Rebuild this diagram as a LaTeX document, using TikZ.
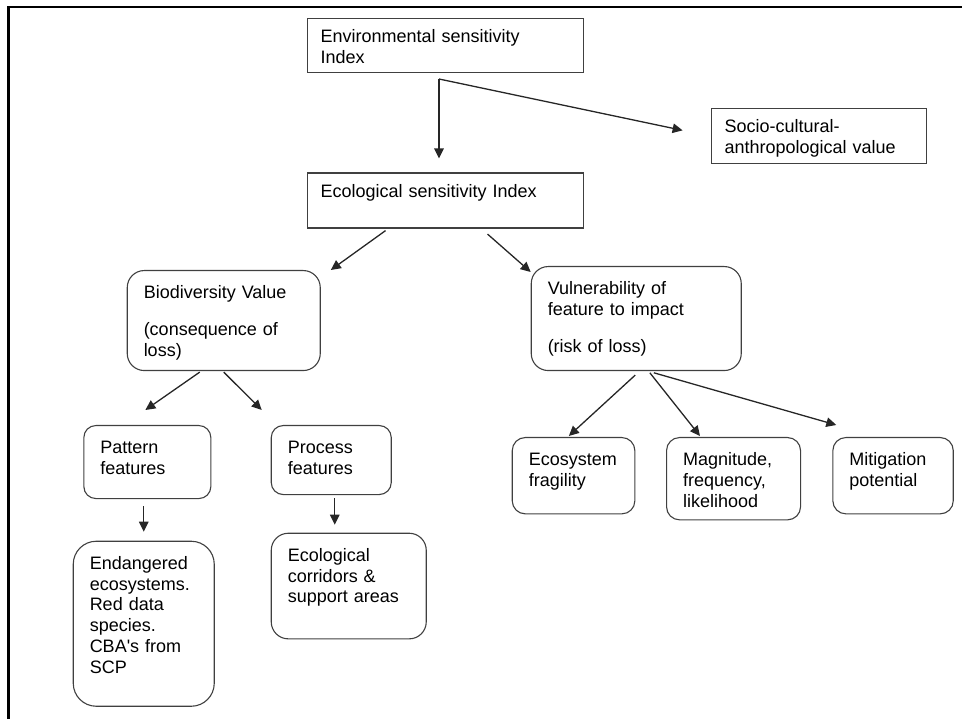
\documentclass[tikz,border=0pt]{standalone}
\usepackage{fontspec}
\setmainfont{Liberation Sans}
\usetikzlibrary{arrows.meta,calc}
\newcommand{\boxfont}{\fontsize{18}{20.8}\selectfont}

\begin{document}
\begin{tikzpicture}[x=1pt,y=-1pt,
    >={Triangle[length=10pt,width=9.5pt]},
    sq/.style={draw=black!75,line width=1.1pt,anchor=north west,align=left,
        inner xsep=13pt,inner ysep=0pt,text height=24pt,font=\boxfont},
    rnd/.style={sq,inner xsep=16.5pt,text height=28pt,rounded corners=#1},
    arr/.style={->,line width=1.3pt,black!85}]
        \useasboundingbox (0,0) rectangle (962,719);
        % frame
        \draw[line width=2.3pt] (8.5,719) -- (8.5,7) -- (962,7);
        % index boxes
        \node[sq,text width=250pt,text depth=30pt] (env) at (307,18) {Environmental sensitivity\\Index};
        \node[sq,text width=250pt,text depth=31pt] (eco) at (307,172.5) {Ecological sensitivity Index};
        \node[sq,text width=189pt,text depth=31pt] (socio) at (711,108.3) {Socio-cultural-\\anthropological value};
        % value and vulnerability
        \node[rnd=17pt,text width=160pt,text depth=72pt] (bio) at (126.7,270) {Biodiversity Value\\[16pt](consequence of\\loss)};
        \node[rnd=17pt,text width=177pt,text depth=76pt] (vuln) at (530.7,266) {Vulnerability of\\feature to impact\\[16pt](risk of loss)};
        % features
        \node[rnd=12pt,text width=94pt,text depth=45pt] (pat) at (83.3,425) {Pattern\\features};
        \node[rnd=12pt,text width=87pt,text depth=41pt] (proc) at (270.7,425) {Process\\features};
        \node[rnd=23pt,text width=108pt,text depth=137pt] (endg) at (72.7,540.7) {Endangered\\ecosystems.\\Red data\\species.\\CBA\textquotesingle s from\\SCP};
        \node[rnd=17pt,text width=122pt,text depth=77.6pt] (corr) at (270.7,532.7) {Ecological\\corridors \&\\support areas};
        % risk factors
        \node[rnd=13pt,text width=89.6pt,text depth=48.3pt] (frag) at (511.7,437) {Ecosystem\\fragility};
        \node[rnd=13pt,text width=101pt,text depth=54.3pt] (magn) at (666,437) {Magnitude,\\frequency,\\likelihood};
        \node[rnd=13pt,text width=87.4pt,text depth=48.3pt] (miti) at (832.3,437) {Mitigation\\potential};
        % arrows from the top
        \coordinate (fork) at (439,79);
        \draw[arr,shorten >=14pt] (fork) -- (fork |- eco.north);
        \draw[arr,shorten >=29pt] (fork) -- (socio.west);
        \draw[arr] ($(eco.south)+(-60,2)$) -- ($(bio.north east)+(10,0)$);
        \draw[arr] ($(eco.south)+(42,5.5)$) -- ($(vuln.north west)+(0,6)$);
        % arrows below biodiversity
        \draw[arr] ($(bio.south)+(-24,1)$) -- ($(pat.north)+(-2,-15)$);
        \draw[arr] ($(bio.south)+(0,1)$) -- ($(proc.north west)+(-9,-15)$);
        \draw[arr,shorten <=7pt,shorten >=9pt] (endg.north |- pat.south) -- (endg.north);
        \draw[arr,shorten <=3pt,shorten >=8pt] ([xshift=3.5pt]proc.south) -- ([xshift=3.5pt]proc.south |- corr.north);
        % arrows below vulnerability
        \draw[arr] ($(vuln.south)+(-1,4)$) -- ($(frag.north)+(-4.7,-1)$);
        \draw[arr] ($(vuln.south)+(13.6,1.7)$) -- ($(magn.north west)+(34,-1)$);
        \draw[arr] ($(vuln.south)+(17.6,1.7)$) -- ($(miti.north west)+(4,-12)$);
    \end{tikzpicture}
\end{document}
